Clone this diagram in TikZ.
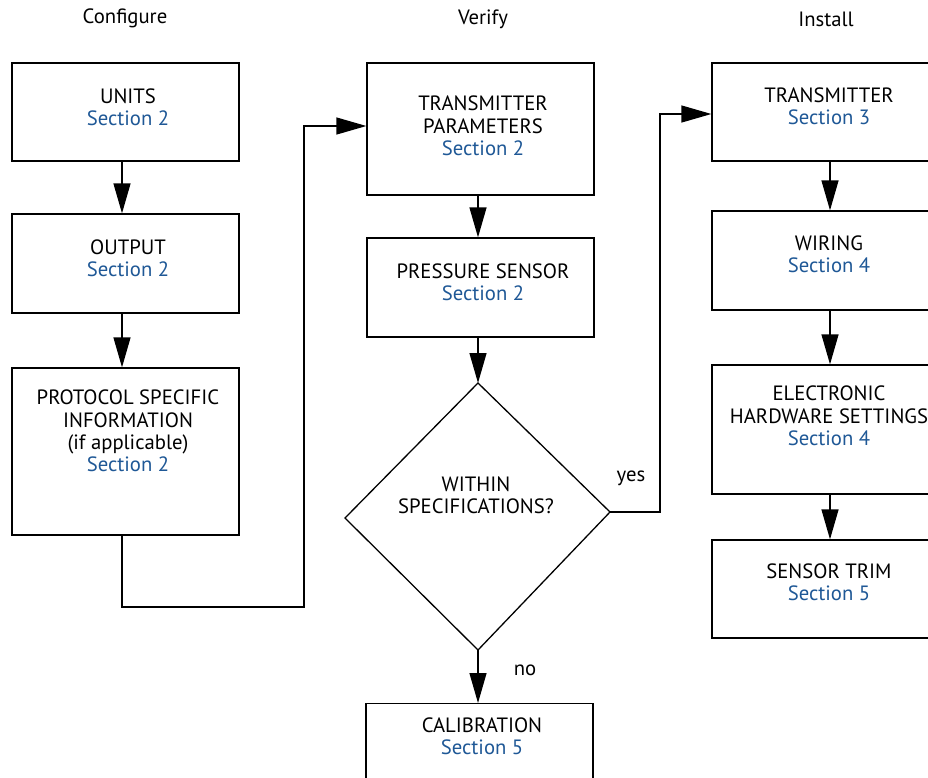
\documentclass[tikz,border=0pt]{standalone}
\usepackage{fontspec}
\setmainfont{PT Sans}
\usetikzlibrary{arrows.meta}
\definecolor{secblue}{RGB}{31,88,150}
\begin{document}
\begin{tikzpicture}[x=1pt,y=-1pt,
  box/.style={draw=black, line width=1.3pt, minimum width=227pt, inner sep=0pt},
  txt/.style={align=center, font=\fontsize{20.7}{22.3}\selectfont, inner sep=0pt},
  link/.style={draw=black, line width=1.3pt},
  arr/.style={link, -{Triangle[length=30pt,width=17pt]}}]
\useasboundingbox (0,0) rectangle (928,777);
% headings
\node[txt] (hconf) at (125,18) {Configure};
\node[txt] (hver) at (483,19) {Verify};
\node[txt] (hinst) at (826,19) {Install};
% column 1
\node[box, minimum height=98pt] (units) at (125.5,112) {};
\node[txt] at (128,107) {UNITS\\\textcolor{secblue}{Section 2}};
\node[box, minimum height=99pt] (output) at (125.5,263.5) {};
\node[txt] at (128,258) {OUTPUT\\\textcolor{secblue}{Section 2}};
\node[box, minimum height=167pt] (proto) at (125.5,451.5) {};
\node[txt] at (128,431) {PROTOCOL SPECIFIC\\INFORMATION\\(if applicable)\\\textcolor{secblue}{Section 2}};
% column 2
\node[box, minimum height=132pt] (tparam) at (480.5,129) {};
\node[txt] at (483,126) {TRANSMITTER\\PARAMETERS\\\textcolor{secblue}{Section 2}};
\node[box, minimum height=99pt] (psens) at (480.5,287.5) {};
\node[txt] at (483,282) {PRESSURE SENSOR\\\textcolor{secblue}{Section 2}};
\coordinate (dt) at (478,383);
\coordinate (db) at (478,650);
\coordinate (dl) at (345,518);
\coordinate (dr) at (610,512);
\draw[link, line join=miter] (dt) -- (dr) -- (db) -- (dl) -- cycle;
\node[txt] (dtext) at (476,495) {WITHIN\\SPECIFICATIONS?};
\node[box, minimum height=100pt, anchor=north] (calib) at (479.5,703) {};
\node[txt] at (482,736) {CALIBRATION\\\textcolor{secblue}{Section 5}};
% column 3
\node[box, minimum height=98pt] (trans) at (825.5,112) {};
\node[txt] at (829,106) {TRANSMITTER\\\textcolor{secblue}{Section 3}};
\node[box, minimum height=99pt] (wiring) at (825.5,260.5) {};
\node[txt] at (829,254) {WIRING\\\textcolor{secblue}{Section 4}};
\node[box, minimum height=129pt] (elec) at (825.5,429.5) {};
\node[txt] at (829,416) {ELECTRONIC\\HARDWARE SETTINGS\\\textcolor{secblue}{Section 4}};
\node[box, minimum height=98pt] (strim) at (825.5,589) {};
\node[txt] at (829,582) {SENSOR TRIM\\\textcolor{secblue}{Section 5}};
% connectors column 1
\draw[arr] (units.south -| 122,0) -- (output.north -| 122,0);
\draw[arr] (output.south -| 122,0) -- (proto.north -| 122,0);
\coordinate (c1) at (122,607);
\coordinate (c2) at (304,607);
\draw[arr] (proto.south -| c1) -- (c1) -- (c2) -- (c2 |- 0,126) -- (tparam.west |- 0,126);
% column 2
\draw[arr] (tparam.south -| dt) -- (psens.north -| dt);
\draw[arr] (psens.south -| dt) -- (dt);
\draw[arr] (db) -- (calib.north -| db);
\node[txt] (no) at (525,670) {no};
\coordinate (y1) at (660,512);
\draw[arr] (dr) -- (y1) -- (y1 |- 0,114) -- (trans.west |- 0,114);
\node[txt] (yes) at (631,478) {yes};
% column 3
\draw[arr] (trans.south -| 830,0) -- (wiring.north -| 830,0);
\draw[arr] (wiring.south -| 830,0) -- (elec.north -| 830,0);
\draw[arr] (elec.south -| 830,0) -- (strim.north -| 830,0);
\end{tikzpicture}
\end{document}
